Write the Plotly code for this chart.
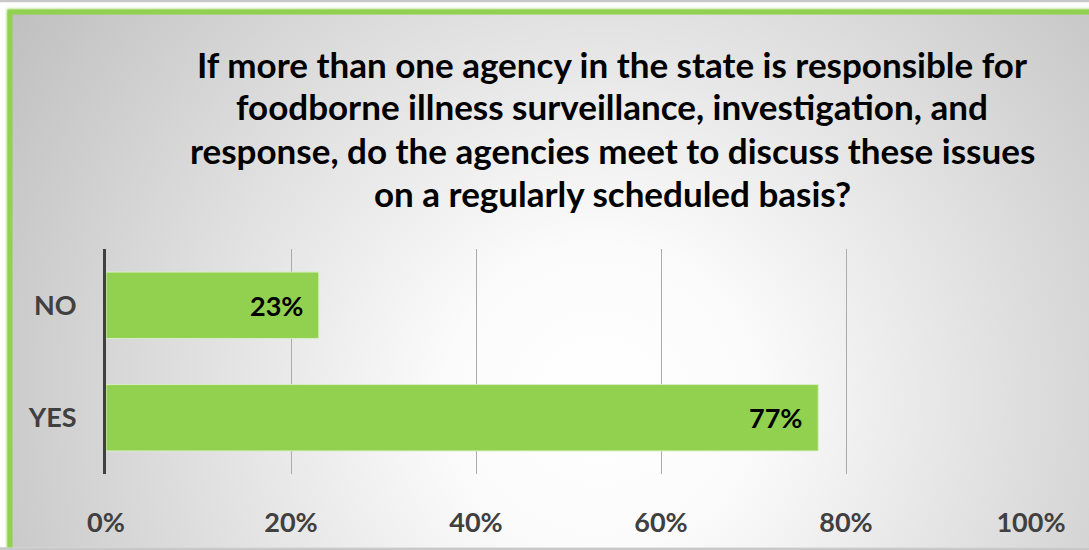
import plotly.graph_objects as go
import base64

categories = ["YES", "NO"]
shares = [0.77, 0.23]
share_labels = ["77%", "23%"]
tick_vals = [0, 0.2, 0.4, 0.6, 0.8, 1.0]
tick_text = ["0%", "20%", "40%", "60%", "80%", "100%"]
title_lines = [
    "If more than one agency in the state is responsible for",
    "foodborne illness surveillance, investigation, and",
    "response, do the agencies meet to discuss these issues",
    "on a regularly scheduled basis?",
]

W, H = 1089, 550
L, R, T, B = 106, 58, 249, 74
FONT = "Lato"
GREEN = "#92D050"

# page background: radial grey gradient with a green frame (cropped on right/bottom)
svg = f"""<svg xmlns='http://www.w3.org/2000/svg' width='{W}' height='{H}' viewBox='0 0 {W} {H}'>
<defs>
<radialGradient id='g' gradientUnits='userSpaceOnUse' cx='600' cy='400' r='700'>
<stop offset='0' stop-color='#ffffff'/>
<stop offset='0.22' stop-color='#fbfbfb'/>
<stop offset='1' stop-color='#c0c0c0'/>
</radialGradient>
<filter id='b' x='-0.1' y='-0.1' width='1.2' height='1.2'><feGaussianBlur stdDeviation='1.5'/></filter>
</defs>
<rect x='-5' y='-5' width='{W + 10}' height='{H + 10}' fill='white'/>
<rect x='10' y='10' width='1300' height='800' fill='url(#g)' stroke='{GREEN}' stroke-width='6' filter='url(#b)'/>
<rect x='10' y='10' width='1300' height='800' fill='url(#g)' stroke='{GREEN}' stroke-width='5'/>
</svg>"""
src = "data:image/svg+xml;base64," + base64.b64encode(svg.encode()).decode()

pw, ph = W - L - R, H - T - B

def px_x(x):
    return (x - L) / pw

def px_y(y):
    return (H - B - y) / ph

fig = go.Figure()
fig.add_trace(go.Bar(
    y=categories, x=shares, orientation="h",
    marker=dict(color=GREEN, line=dict(color="#d9eec4", width=1)),
    hoverinfo="skip",
))

for c, v, t in zip(categories, shares, share_labels):
    fig.add_annotation(x=v, y=c, xref="x", yref="y", text=t, showarrow=False,
                       xanchor="right", xshift=-14,
                       font=dict(family=FONT, size=27, color="black", weight="bold"))

line_y = [62, 105, 149, 192]
for ln, yy in zip(title_lines, line_y):
    fig.add_annotation(x=px_x(612), y=px_y(yy), xref="paper", yref="paper", text=ln,
                       showarrow=False, xanchor="center", yanchor="middle",
                       font=dict(family=FONT, size=35, color="black", weight="bold"))

fig.add_layout_image(dict(source=src, xref="paper", yref="paper",
                          x=px_x(0), y=px_y(0), sizex=W / pw, sizey=H / ph,
                          xanchor="left", yanchor="top", sizing="stretch", layer="below"))

fig.update_layout(
    width=W, height=H,
    margin=dict(l=L, r=R, t=T, b=B),
    paper_bgcolor="#c8c8c8", plot_bgcolor="rgba(0,0,0,0)",
    bargap=0.41, showlegend=False,
)
fig.update_xaxes(range=[0, 1], tickvals=tick_vals, ticktext=tick_text,
                 showgrid=True, gridcolor="#ababab", gridwidth=1, zeroline=False,
                 showline=False, ticks="", ticklabelstandoff=30,
                 tickfont=dict(family=FONT, size=27, color="#404040", weight="bold"))
fig.update_yaxes(showline=True, linecolor="#404040", linewidth=3, showgrid=False,
                 ticks="", ticklabelstandoff=21,
                 tickfont=dict(family=FONT, size=27, color="#404040", weight="bold"))

fig.write_html("out.html", config={"displayModeBar": False},
               post_script="document.body.style.margin='0';document.body.style.overflow='hidden';")
